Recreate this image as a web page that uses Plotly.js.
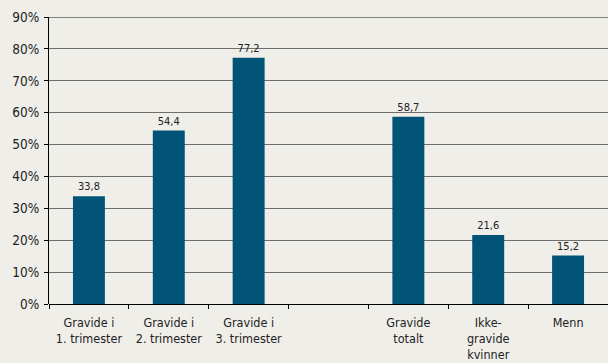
<!DOCTYPE html>
<html>
<head>
<meta charset="utf-8">
<script src="https://cdn.plot.ly/plotly-3.0.1.min.js"></script>
<style>
html,body{margin:0;padding:0;background:#efeee9;}
#chart{width:608px;height:363px;}
</style>
</head>
<body>
<div id="chart"></div>
<script>
const categories = ["Gravide i<br>1. trimester", "Gravide i<br>2. trimester", "Gravide i<br>3. trimester", " ", "Gravide<br>totalt", "Ikke-<br>gravide<br>kvinner", "Menn"];
const values = [33.8, 54.4, 77.2, null, 58.7, 21.6, 15.2];
const yTicks = [0, 10, 20, 30, 40, 50, 60, 70, 80, 90];
const yTickLabels = ["0%", "10%", "20%", "30%", "40%", "50%", "60%", "70%", "80%", "90%"];

const font = "'DejaVu Sans Condensed', 'DejaVu Sans', sans-serif";

Plotly.newPlot("chart", [{
  type: "bar",
  x: categories,
  y: values,
  marker: {color: "#015478"},
  width: 0.4,
  texttemplate: "%{y:.1f}",
  textposition: "outside",
  cliponaxis: false,
  textfont: {family: font, size: 11, color: "#222"},
  hoverinfo: "skip"
}], {
  width: 608, height: 363,
  paper_bgcolor: "#efeee9",
  plot_bgcolor: "#efeee9",
  separators: ",.",
  margin: {l: 49, r: 0, t: 17, b: 59},
  showlegend: false,
  font: {family: font, size: 12.5, color: "#222"},
  xaxis: {
    type: "category",
    range: [-0.5, 6.5],
    tickson: "boundaries",
    ticks: "outside",
    ticklen: 4,
    tickcolor: "#000",
    ticklabelstandoff: 9,
    showgrid: false,
    showline: false,
    tickfont: {family: font, size: 12.5, color: "#222"},
    fixedrange: true
  },
  yaxis: {
    range: [0, 90],
    tickvals: yTicks,
    ticktext: yTickLabels,
    ticks: "outside",
    ticklen: 4,
    tickcolor: "#000",
    ticklabelstandoff: 2,
    showgrid: true,
    gridcolor: "#6e6e6e",
    gridwidth: 1,
    zeroline: true,
    zerolinecolor: "#000",
    zerolinewidth: 1,
    showline: true,
    linecolor: "#000",
    linewidth: 1,
    tickfont: {family: font, size: 13.5, color: "#222"},
    fixedrange: true
  },
  shapes: [{
    type: "line", xref: "paper", yref: "y",
    x0: 0, x1: 1, y0: 90, y1: 90,
    line: {color: "#111", width: 1}
  }]
}, {staticPlot: true});
</script>
</body>
</html>
